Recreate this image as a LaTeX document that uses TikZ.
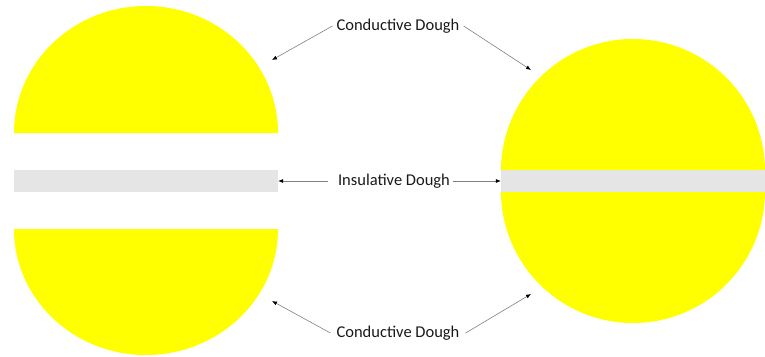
\documentclass[tikz,border=0pt]{standalone}
\usepackage{fontspec}
\setmainfont{Carlito}
\usepackage{tikz}
\usetikzlibrary{positioning,arrows.meta}
\definecolor{doughyellow}{RGB}{255,255,0}
\definecolor{inslgray}{RGB}{229,229,229}

\begin{document}
\begin{tikzpicture}[
    x=1pt, y=-1pt,
    dough/.style={fill=doughyellow},
    bar/.style={fill=inslgray, minimum width=264pt, minimum height=22pt, inner sep=0pt},
    lbl/.style={inner sep=0pt, text=black!90, font=\fontsize{16.5}{18}\selectfont},
    arr/.style={-{Latex[length=5pt, width=4pt, color=black]}, gray, semithick},
]
\useasboundingbox (0,0) rectangle (765,356);

% Left dough, pulled apart
\fill[dough] (14,133) arc[start angle=180, end angle=360, x radius=132, y radius=127] -- cycle;
\node[bar] (lbar) at (146,181) {};
\fill[dough] (14,229) arc[start angle=180, end angle=0, x radius=132, y radius=126] -- cycle;

% Right dough, joined
\fill[dough] (501,171) arc[start angle=180, end angle=360, radius=132] -- cycle;
\fill[dough] (501,191) arc[start angle=180, end angle=0, radius=132] -- cycle;
\node[bar] (rbar) at (633,181) {};

% Labels
\node[lbl] (ctop) at (398,26) {Conductive Dough};
\node[lbl] (ins) at (394,181) {Insulative Dough};
\node[lbl] (cbot) at (398,333) {Conductive Dough};

\coordinate (ltop) at (272,60);
\coordinate (rtop) at (531,70);
\coordinate (lbot) at (272,301);
\coordinate (rbot) at (531,294);

\draw[arr] ([xshift=-4pt]ctop.west) -- (ltop);
\draw[arr] ([xshift=4pt]ctop.east) -- (rtop);
\draw[arr] ([xshift=-10pt]ins.west) -- (lbar.east);
\draw[arr] ([xshift=3pt]ins.east) -- (rbar.west);
\draw[arr] ([xshift=-6pt]cbot.west) -- (lbot);
\draw[arr] ([xshift=6pt]cbot.east) -- (rbot);
\end{tikzpicture}
\end{document}
